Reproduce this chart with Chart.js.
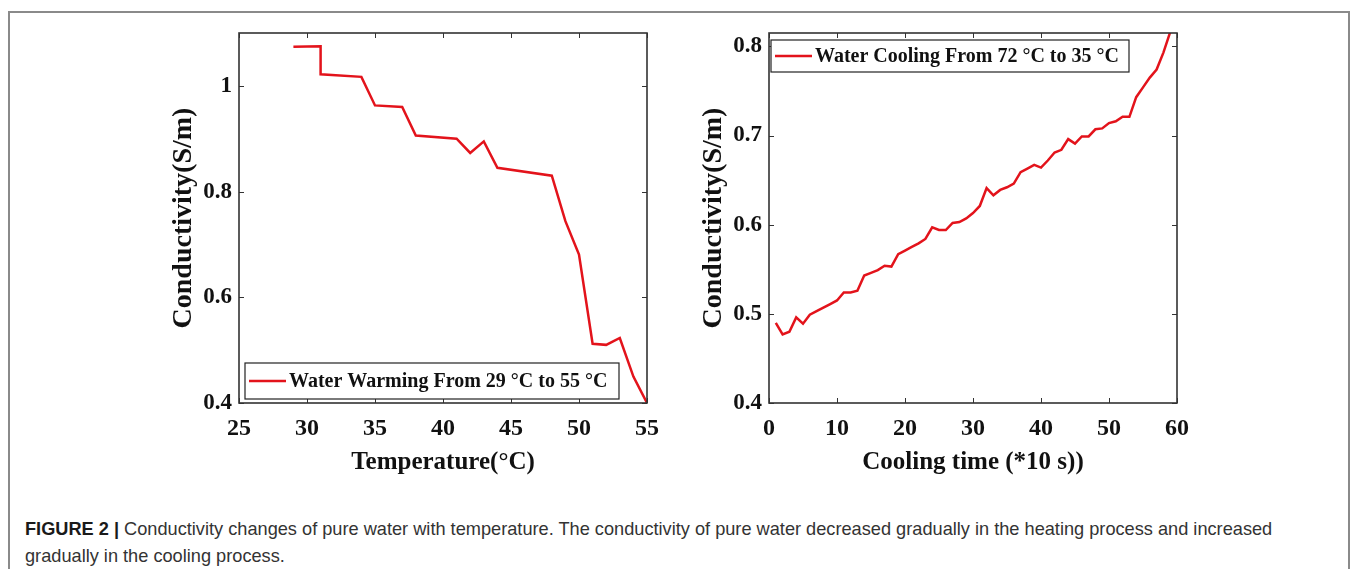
<!DOCTYPE html>
<html>
<head>
<meta charset="utf-8">
<script src="https://cdn.jsdelivr.net/npm/chart.js@4.4.1/dist/chart.umd.min.js"></script>
<style>
  html, body { margin: 0; padding: 0; background: #fff; }
  body { width: 1354px; height: 569px; position: relative; overflow: hidden; }
  #frame { position: absolute; left: 8px; top: 11px; width: 1342px; height: 600px;
           border: 2px solid #8a8a8a; box-sizing: border-box; }
  .wrap { position: absolute; top: 0; width: 520px; height: 490px; }
  #leftWrap { left: 150px; }
  #rightWrap { left: 680px; }
  #caption { position: absolute; left: 25px; top: 516px; font-family: "Liberation Sans", Arial, sans-serif;
             font-size: 18.2px; line-height: 27px; color: #333; white-space: nowrap; }
  #caption b { color: #1a1a1a; }
</style>
</head>
<body>
<div id="frame"></div>
<div class="wrap" id="leftWrap"><canvas id="heatChart"></canvas></div>
<div class="wrap" id="rightWrap"><canvas id="coolChart"></canvas></div>
<div id="caption"><b>FIGURE 2 |</b> Conductivity changes of pure water with temperature. The conductivity of pure water decreased gradually in the heating process and increased<br>gradually in the cooling process.</div>

<script>
// heating run: temperature (°C) vs conductivity (S/m)
const heatTemp = [29, 31, 31, 34, 35, 37, 38, 41, 42, 43, 44, 48, 49, 50, 51, 52, 53, 54, 55];
const heatCond = [1.074, 1.075, 1.022, 1.017, 0.963, 0.960, 0.906, 0.900, 0.873, 0.895, 0.845,
                  0.830, 0.744, 0.681, 0.512, 0.510, 0.523, 0.450, 0.400];
const heatXTicks = [25, 30, 35, 40, 45, 50, 55];
const heatYTicks = [0.4, 0.6, 0.8, 1];

// cooling run: time (*10 s) vs conductivity (S/m)
const coolTime = [1, 2, 3, 4, 5, 6, 7, 8, 9, 10, 11, 12, 13, 14, 15, 16, 17, 18, 19, 20,
                  21, 22, 23, 24, 25, 26, 27, 28, 29, 30, 31, 32, 33, 34, 35, 36, 37, 38, 39, 40,
                  41, 42, 43, 44, 45, 46, 47, 48, 49, 50, 51, 52, 53, 54, 55, 56, 57, 58, 59];
const coolCond = [0.490, 0.477, 0.480, 0.496, 0.489, 0.499, 0.503, 0.507, 0.511, 0.515,
                  0.524, 0.524, 0.526, 0.543, 0.546, 0.549, 0.554, 0.553, 0.567, 0.571,
                  0.575, 0.579, 0.584, 0.597, 0.594, 0.594, 0.602, 0.603, 0.607, 0.613,
                  0.621, 0.641, 0.633, 0.639, 0.642, 0.646, 0.659, 0.663, 0.667, 0.664,
                  0.672, 0.681, 0.684, 0.696, 0.691, 0.699, 0.699, 0.707, 0.708, 0.714,
                  0.716, 0.721, 0.721, 0.743, 0.754, 0.765, 0.774, 0.793, 0.816];
const coolXTicks = [0, 10, 20, 30, 40, 50, 60];
const coolYTicks = [0.4, 0.5, 0.6, 0.7, 0.8];

const heatLabel = 'Water Warming From 29 °C to 55 °C';
const coolLabel = 'Water Cooling From 72 °C to 35 °C';

const SERIF = '"Liberation Serif", "Times New Roman", serif';
const RED = '#e3131b';
const INK = '#111';

// box around plot, inward ticks on all four sides, and a MATLAB-like boxed legend
const matlabBox = {
    id: 'matlabBox',
    afterDatasetsDraw(chart, args, opts) {
        const {ctx, chartArea: a, scales} = chart;
        const x = scales.x, y = scales.y;
        ctx.save();
        ctx.strokeStyle = '#333';
        ctx.lineWidth = 1;
        ctx.beginPath();
        x.ticks.forEach(t => {
            const px = Math.round(x.getPixelForValue(t.value)) + 0.5;
            ctx.moveTo(px, a.bottom); ctx.lineTo(px, a.bottom - 5);
            ctx.moveTo(px, a.top); ctx.lineTo(px, a.top + 5);
        });
        y.ticks.forEach(t => {
            const py = Math.round(y.getPixelForValue(t.value)) + 0.5;
            ctx.moveTo(a.left, py); ctx.lineTo(a.left + 5, py);
            ctx.moveTo(a.right, py); ctx.lineTo(a.right - 5, py);
        });
        ctx.stroke();
        ctx.lineWidth = 1.6;
        ctx.strokeRect(a.left, a.top, a.right - a.left, a.bottom - a.top);

        // legend
        const ds = chart.data.datasets[0];
        const bx = a.left + opts.dx, by = a.top + opts.dy;
        ctx.fillStyle = '#fff';
        ctx.fillRect(bx, by, opts.w, opts.h);
        ctx.strokeStyle = '#222';
        ctx.lineWidth = 1.2;
        ctx.strokeRect(bx, by, opts.w, opts.h);
        const cy = by + opts.h / 2;
        ctx.strokeStyle = ds.borderColor;
        ctx.lineWidth = 2.5;
        ctx.beginPath();
        ctx.moveTo(bx + 4, cy); ctx.lineTo(bx + 41, cy);
        ctx.stroke();
        ctx.fillStyle = INK;
        ctx.font = 'bold 20px ' + SERIF;
        ctx.textBaseline = 'middle';
        ctx.textAlign = 'left';
        ctx.fillText(ds.label, bx + 44, cy + 1);
        ctx.restore();
    }
};

function makeChart(id, xs, ys, label, xr, yr, xTicks, yTicks, xTitle, legendPos, padRight) {
    const pts = xs.map((v, i) => ({x: v, y: ys[i]}));
    return new Chart(document.getElementById(id), {
        type: 'line',
        data: {
            datasets: [{
                label: label,
                data: pts,
                borderColor: RED,
                borderWidth: 2.5,
                pointRadius: 0,
                tension: 0,
                fill: false
            }]
        },
        options: {
            responsive: true,
            maintainAspectRatio: false,
            animation: false,
            layout: { padding: { left: 0, right: padRight, top: 33, bottom: 0 } },
            plugins: {
                legend: { display: false },
                tooltip: { enabled: false },
                matlabBox: legendPos
            },
            scales: {
                x: {
                    type: 'linear',
                    min: xr[0], max: xr[1],
                    afterBuildTicks: s => { s.ticks = xTicks.map(v => ({value: v})); },
                    afterFit: s => { s.height = 87; },
                    grid: { display: false, drawTicks: false },
                    border: { display: false },
                    ticks: { color: INK, padding: 11, maxRotation: 0,
                             callback: v => String(v),
                             font: { family: SERIF, size: 24, weight: 'bold' } },
                    title: { display: true, text: xTitle, color: INK,
                             padding: { top: 0, bottom: 12 },
                             font: { family: SERIF, size: 25, weight: 'bold' } }
                },
                y: {
                    min: yr[0], max: yr[1],
                    afterBuildTicks: s => { s.ticks = yTicks.map(v => ({value: v})); },
                    afterFit: s => { s.width = 89; },
                    grid: { display: false, drawTicks: false },
                    border: { display: false },
                    ticks: { color: INK, padding: 7,
                             callback: v => String(v),
                             font: { family: SERIF, size: 23, weight: 'bold' } },
                    title: { display: true, text: 'Conductivity(S/m)', color: INK,
                             padding: { top: 17, bottom: 0 },
                             font: { family: SERIF, size: 28, weight: 'bold' } }
                }
            }
        },
        plugins: [matlabBox]
    });
}

makeChart('heatChart', heatTemp, heatCond, heatLabel, [25, 55], [0.4, 1.1],
          heatXTicks, heatYTicks, 'Temperature(°C)', { dx: 6, dy: 330, w: 374, h: 36 }, 22);
makeChart('coolChart', coolTime, coolCond, coolLabel, [0, 60], [0.4, 0.815],
          coolXTicks, coolYTicks, 'Cooling time (*10 s))', { dx: 2, dy: 7, w: 358, h: 32 }, 23);
</script>
</body>
</html>
